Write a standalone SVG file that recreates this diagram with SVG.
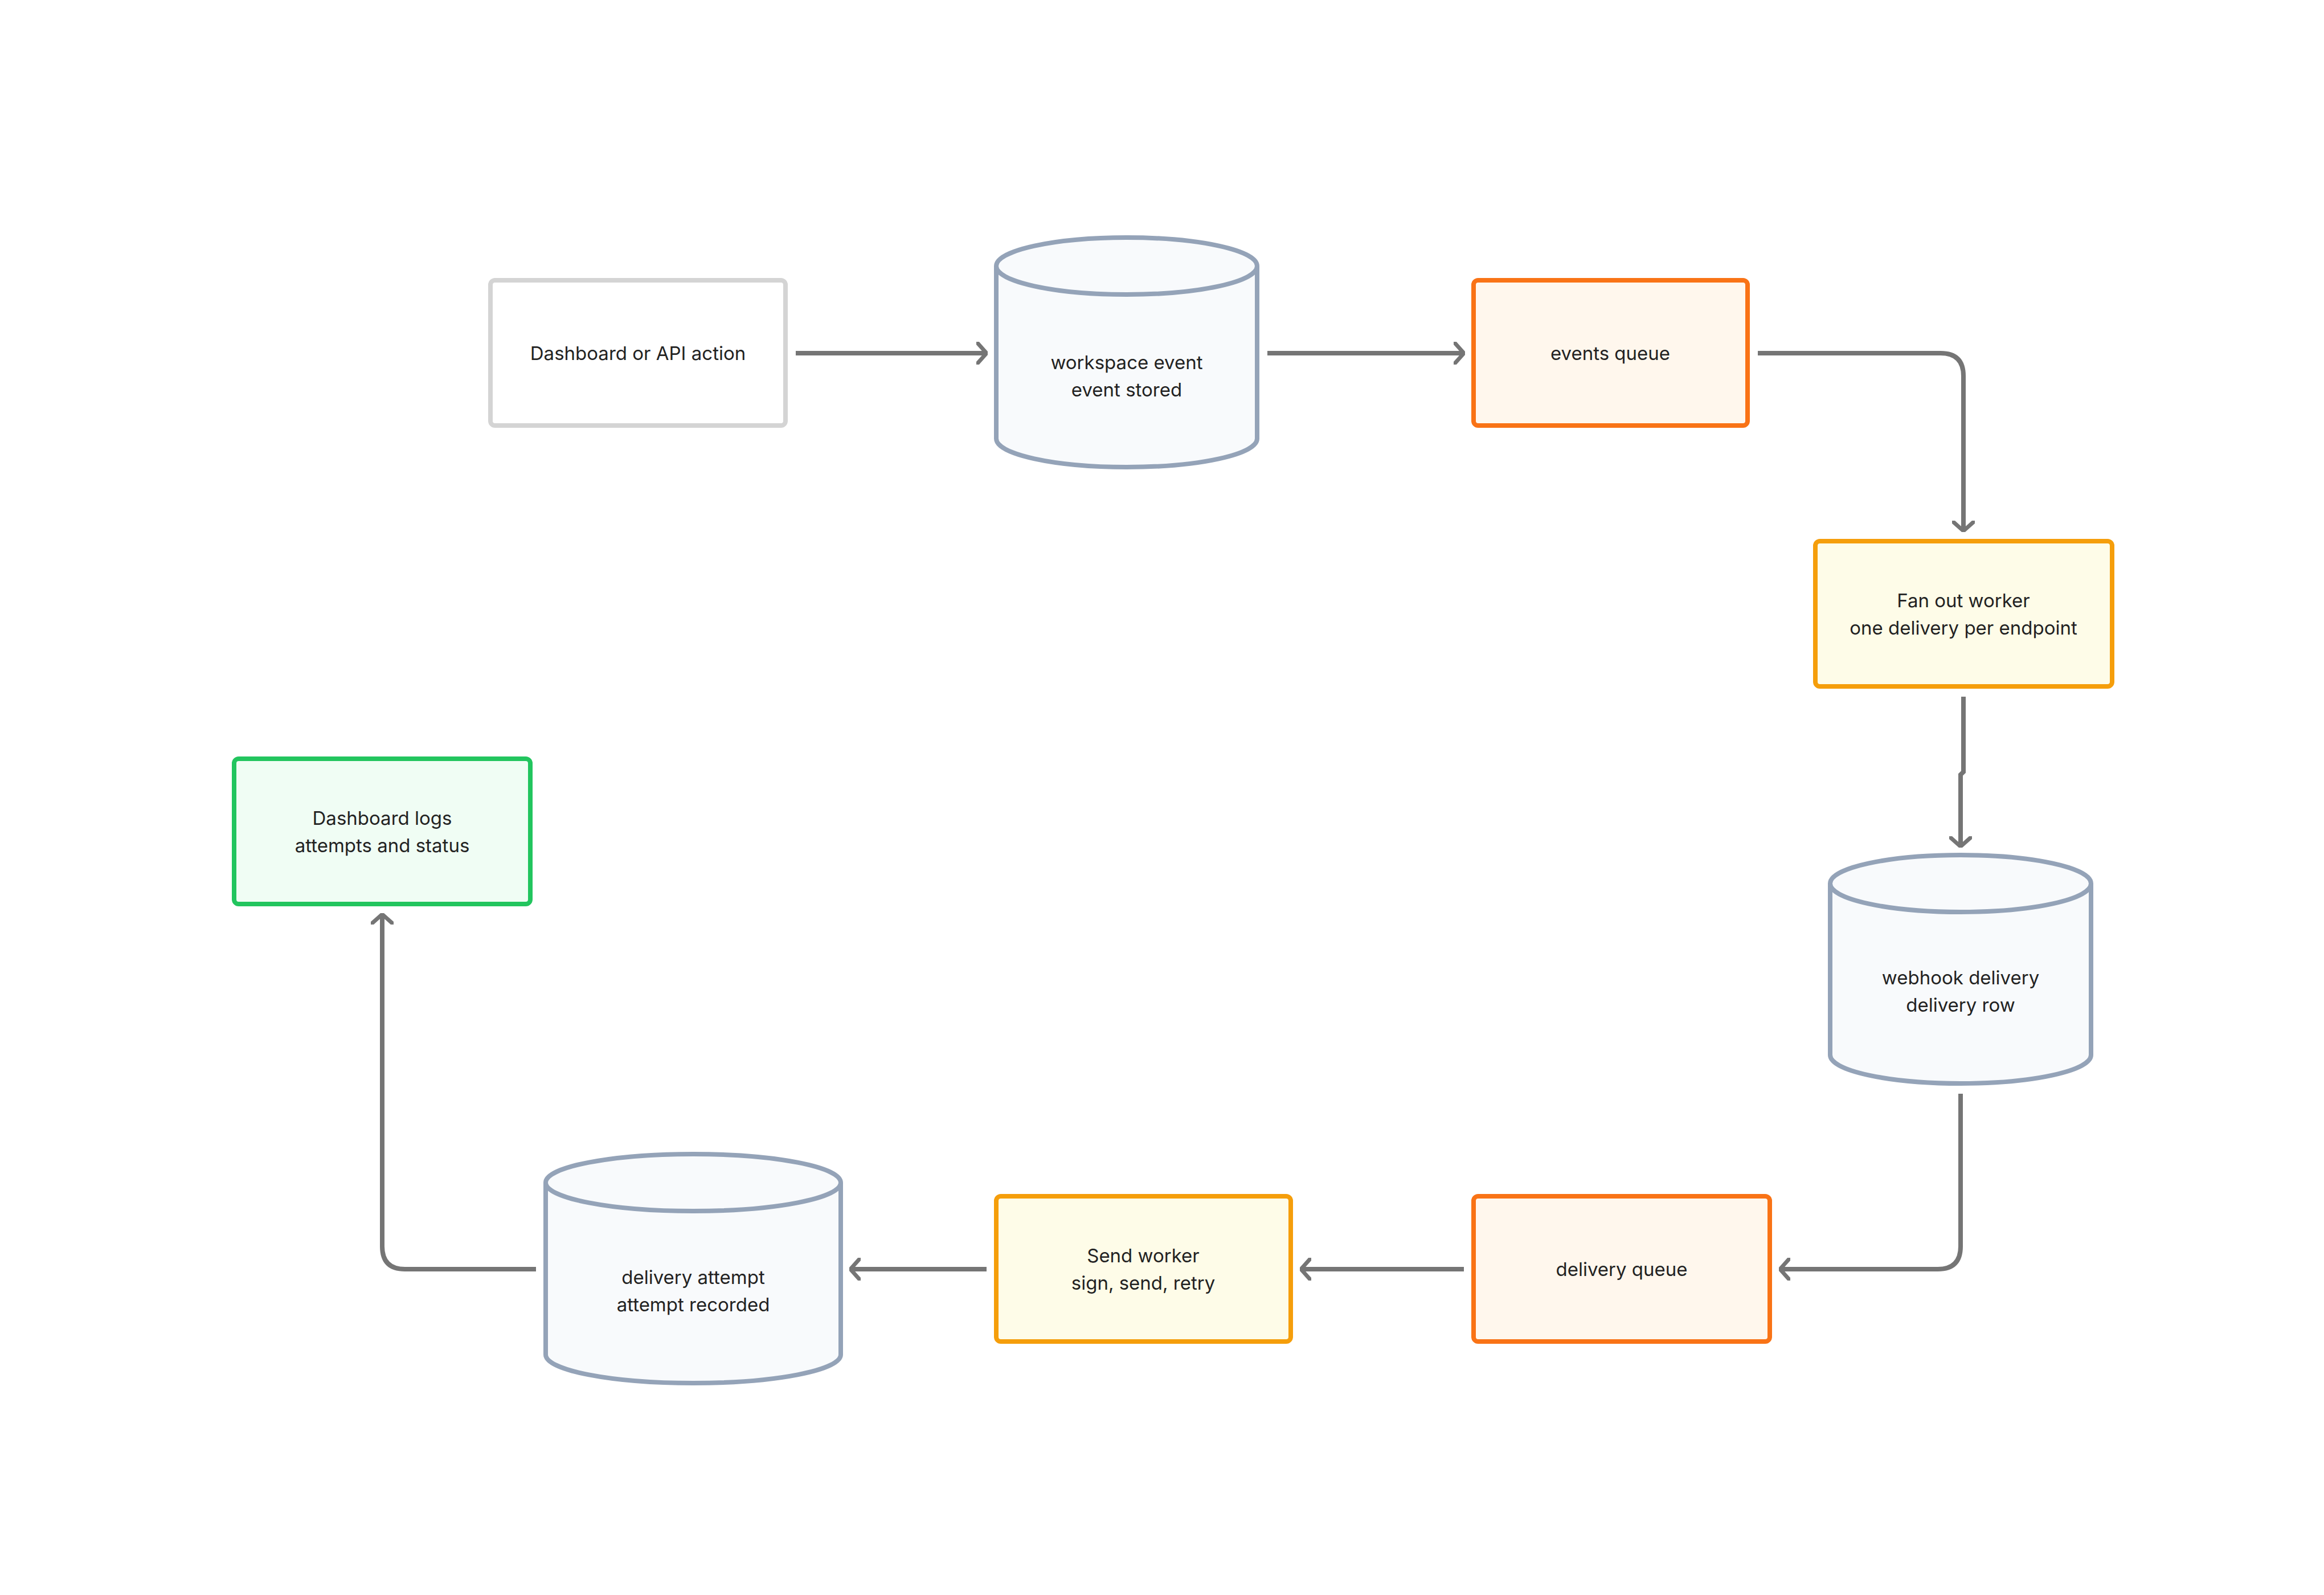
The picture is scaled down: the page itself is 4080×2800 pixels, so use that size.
<svg xmlns="http://www.w3.org/2000/svg" width="4080" height="2800" viewBox="0 0 4080 2800">
<defs>
<marker id="ah" viewBox="0 0 20 40" refX="18" refY="20" markerWidth="20" markerHeight="40" markerUnits="userSpaceOnUse" orient="auto"><path d="M2 2 L18 20 L2 38" fill="none" stroke="#757575" stroke-width="7" stroke-linecap="round"/></marker>
</defs>
<style>
text{font-family:Inter,"Liberation Sans",sans-serif;font-size:33px;fill:#222;text-anchor:middle}
.cyl{fill:#f8fafc;stroke:#94a3b8;stroke-width:8}
.c path,.c line{fill:none;stroke:#757575;stroke-width:8}
</style>
<rect width="4080" height="2800" fill="#fff"/>
<g id="n1"><rect x="861" y="492" width="518" height="255" rx="8" fill="#fff" stroke="#d4d4d4" stroke-width="8"/><text x="1120" y="632">Dashboard or API action</text></g>
<g id="n2"><path class="cyl" d="M1749 467 V770 A229 50 0 0 0 2207 770 V467"/><ellipse class="cyl" cx="1978" cy="467" rx="229" ry="50"/><text x="1978" y="648">workspace event</text><text x="1978" y="696">event stored</text></g>
<g id="n3"><rect x="2587" y="492" width="481" height="255" rx="8" fill="#fff7ed" stroke="#f97316" stroke-width="8"/><text x="2827" y="632">events queue</text></g>
<g id="n4"><rect x="3187" y="950" width="521" height="255" rx="8" fill="#fefce8" stroke="#f59e0b" stroke-width="8"/><text x="3447" y="1066">Fan out worker</text><text x="3447" y="1114">one delivery per endpoint</text></g>
<g id="n5"><path class="cyl" d="M3213 1551 V1852 A229 50 0 0 0 3671 1852 V1551"/><ellipse class="cyl" cx="3442" cy="1551" rx="229" ry="50"/><text x="3442" y="1728">webhook delivery</text><text x="3442" y="1776">delivery row</text></g>
<g id="n6"><rect x="2587" y="2100" width="520" height="255" rx="8" fill="#fff7ed" stroke="#f97316" stroke-width="8"/><text x="2847" y="2240">delivery queue</text></g>
<g id="n7"><rect x="1749" y="2100" width="517" height="255" rx="8" fill="#fefce8" stroke="#f59e0b" stroke-width="8"/><text x="2007" y="2216">Send worker</text><text x="2007" y="2264">sign, send, retry</text></g>
<g id="n8"><path class="cyl" d="M958 2076 V2378 A259 50 0 0 0 1476 2378 V2076"/><ellipse class="cyl" cx="1217" cy="2076" rx="259" ry="50"/><text x="1217" y="2254">delivery attempt</text><text x="1217" y="2302">attempt recorded</text></g>
<g id="n9"><rect x="411" y="1332" width="520" height="255" rx="8" fill="#f0fdf4" stroke="#22c55e" stroke-width="8"/><text x="671" y="1448">Dashboard logs</text><text x="671" y="1496">attempts and status</text></g>
<g id="connectors" class="c">
<path d="M1397 620 H1732" marker-end="url(#ah)"/>
<path d="M2225 620 H2570" marker-end="url(#ah)"/>
<path d="M3086 620 H3407 Q3447 620 3447 660 V932" marker-end="url(#ah)"/>
<path d="M3447 1223 V1355 L3442 1360 V1486" marker-end="url(#ah)"/>
<path d="M3442 1920 V2188 Q3442 2228 3402 2228 H3125" marker-end="url(#ah)"/>
<path d="M2570 2228 H2284" marker-end="url(#ah)"/>
<path d="M1732 2228 H1493" marker-end="url(#ah)"/>
<path d="M941 2228 H711 Q671 2228 671 2188 V1605" marker-end="url(#ah)"/>
</g>
</svg>
